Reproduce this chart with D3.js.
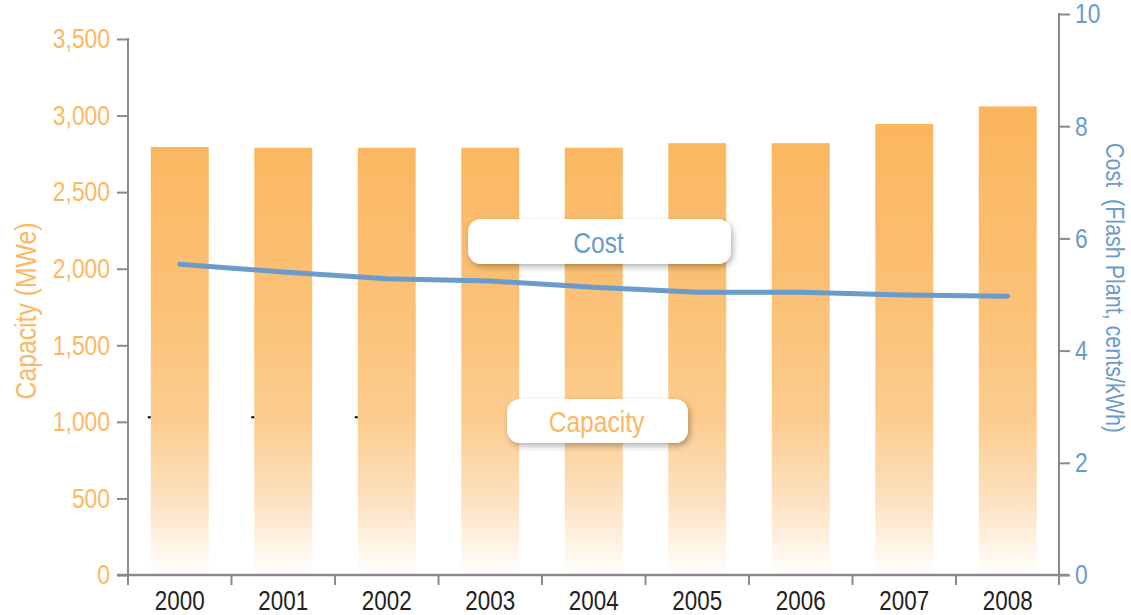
<!DOCTYPE html>
<html>
<head>
<meta charset="utf-8">
<script src="https://cdn.jsdelivr.net/npm/d3@7/dist/d3.min.js"></script>
<style>
  html, body { margin: 0; padding: 0; background: #ffffff; }
  svg { display: block; }
  text { font-family: "Liberation Sans Narrow", "Arial Narrow", "Liberation Sans", Arial, sans-serif; }
</style>
</head>
<body>
<svg id="chart" width="1131" height="615"></svg>
<script>
// ---- data ----
const years = ["2000", "2001", "2002", "2003", "2004", "2005", "2006", "2007", "2008"];
const capacity = [2795, 2790, 2790, 2790, 2790, 2820, 2820, 2945, 3060]; // MWe
const cost = [5.54, 5.40, 5.28, 5.24, 5.13, 5.04, 5.04, 4.99, 4.97];      // cents/kWh
const capacityTicks = [0, 500, 1000, 1500, 2000, 2500, 3000, 3500];
const costTicks = [0, 2, 4, 6, 8, 10];
const markerYears = ["2000", "2001", "2002"];

// ---- colors ----
const blue = "#6A9BCB";
const orangeText = "#FCB862";
const axisGray = "#8A8A8C";
const FF = "Liberation Sans Narrow, Arial Narrow, Liberation Sans, Arial, sans-serif";

const svg = d3.select("#chart");

// condense helper: squeeze glyphs horizontally (condensed look)
function condense(sel, factor, fixed) {
  sel.each(function () {
    const len = fixed || this.getComputedTextLength() * factor;
    d3.select(this).attr("textLength", len).attr("lengthAdjust", "spacingAndGlyphs");
  });
}

// ---- scales ----
const x = d3.scaleBand().domain(years).range([128, 1059.5]).padding(0);
const yL = d3.scaleLinear().domain([0, 3500]).range([575, 39]);
const yR = d3.scaleLinear().domain([0, 10]).range([575, 14]);
const barW = x.bandwidth() * 0.56;

// ---- defs ----
const defs = svg.append("defs");
const grad = defs.append("linearGradient")
  .attr("id", "barGrad")
  .attr("gradientUnits", "userSpaceOnUse")
  .attr("x1", 0).attr("x2", 0)
  .attr("y1", yL(3100)).attr("y2", yL(0));
[[0, "#FBB55B"], [0.42, "#FBC176"], [0.67, "#FCCC8E"], [0.84, "#FDE1BF"], [1, "#FFFFFF"]]
  .forEach(([o, c]) => grad.append("stop").attr("offset", o).attr("stop-color", c));

const shadow = defs.append("filter").attr("id", "shadow")
  .attr("x", "-20%").attr("y", "-40%").attr("width", "140%").attr("height", "180%");
shadow.append("feDropShadow").attr("dx", 2).attr("dy", 3).attr("stdDeviation", 3)
  .attr("flood-color", "#000").attr("flood-opacity", 0.3);

// ---- bars ----
svg.append("g").selectAll("rect").data(years).join("rect")
  .attr("x", (d) => x(d) + x.bandwidth() / 2 - barW / 2)
  .attr("width", barW)
  .attr("y", (d, i) => yL(capacity[i]))
  .attr("height", (d, i) => yL(0) - yL(capacity[i]) - 3)
  .attr("fill", "url(#barGrad)");

// small black marks
svg.append("g").selectAll("rect").data(markerYears).join("rect")
  .attr("x", (d) => x(d) + x.bandwidth() / 2 - barW / 2 - 3)
  .attr("y", yL(1030) - 1)
  .attr("width", 3).attr("height", 2)
  .attr("fill", "#000");

// ---- cost line ----
const line = d3.line()
  .x((d, i) => x(years[i]) + x.bandwidth() / 2)
  .y((d) => yR(d));
svg.append("path").datum(cost)
  .attr("d", line)
  .attr("fill", "none")
  .attr("stroke", blue)
  .attr("stroke-width", 5)
  .attr("stroke-linecap", "round")
  .attr("stroke-linejoin", "round");

// ---- left axis ----
const gL = svg.append("g").attr("transform", "translate(128,0)")
  .call(d3.axisLeft(yL).tickValues(capacityTicks).tickFormat(d3.format(","))
    .tickSize(11).tickSizeOuter(0).tickPadding(7));
gL.select(".domain").remove();
gL.selectAll(".tick line").attr("stroke", axisGray).attr("stroke-width", 2);
gL.selectAll(".tick text").attr("fill", orangeText).attr("font-size", 27.5).attr("font-family", FF);
condense(gL.selectAll(".tick text"), 0.83);
svg.append("line").attr("x1", 128).attr("x2", 128)
  .attr("y1", yL(3500) - 1).attr("y2", yL(0) + 10)
  .attr("stroke", axisGray).attr("stroke-width", 2);

// ---- right axis ----
const gR = svg.append("g").attr("transform", "translate(1059,0)")
  .call(d3.axisRight(yR).tickValues(costTicks).tickFormat(d3.format("d"))
    .tickSize(11).tickSizeOuter(0).tickPadding(5));
gR.select(".domain").remove();
gR.selectAll(".tick line").attr("stroke", axisGray).attr("stroke-width", 2);
gR.selectAll(".tick text").attr("fill", blue).attr("font-size", 27.5).attr("font-family", FF);
condense(gR.selectAll(".tick text"), 0.83);
svg.append("line").attr("x1", 1059).attr("x2", 1059)
  .attr("y1", yR(10) - 1).attr("y2", yR(0) + 10)
  .attr("stroke", axisGray).attr("stroke-width", 2);

// ---- bottom axis ----
svg.append("line").attr("x1", 117).attr("x2", 1069)
  .attr("y1", yL(0)).attr("y2", yL(0))
  .attr("stroke", axisGray).attr("stroke-width", 2.5);
svg.append("g").selectAll("line").data(years.slice(1)).join("line")
  .attr("x1", (d) => x(d)).attr("x2", (d) => x(d))
  .attr("y1", yL(0)).attr("y2", yL(0) + 10)
  .attr("stroke", axisGray).attr("stroke-width", 2);
const gB = svg.append("g").attr("transform", `translate(0,${yL(0)})`)
  .call(d3.axisBottom(x).tickSize(0).tickPadding(16));
gB.select(".domain").remove();
gB.selectAll(".tick text").attr("fill", "#231F20").attr("font-size", 27).attr("font-family", FF);
condense(gB.selectAll(".tick text"), 0.83);

// ---- axis titles ----
const tL = svg.append("text")
  .attr("transform", `translate(36,${(yL(0) + yL(3500)) / 2 + 4}) rotate(-90)`)
  .attr("text-anchor", "middle")
  .attr("fill", orangeText).attr("font-size", 29)
  .text("Capacity (MWe)");
condense(tL, 1, 177);
const tR = svg.append("text")
  .attr("transform", `translate(1106,288) rotate(90)`)
  .attr("text-anchor", "middle")
  .attr("fill", blue).attr("font-size", 26)
  .attr("xml:space", "preserve")
  .style("white-space", "pre")
  .text("Cost  (Flash Plant, cents/kWh)");
condense(tR, 1, 290);

// ---- legend boxes ----
const legends = [
  { label: "Cost", color: blue, x: 468, y: 219, w: 263, h: 45 },
  { label: "Capacity", color: orangeText, x: 507, y: 399, w: 181, h: 44 }
];
const lg = svg.append("g").selectAll("g").data(legends).join("g");
lg.append("rect")
  .attr("x", (d) => d.x).attr("y", (d) => d.y)
  .attr("width", (d) => d.w).attr("height", (d) => d.h)
  .attr("rx", 13).attr("fill", "#fff")
  .attr("filter", "url(#shadow)");
const lt = lg.append("text")
  .attr("x", (d) => d.x + d.w / 2 - 1)
  .attr("y", (d) => d.y + d.h / 2 + 11)
  .attr("text-anchor", "middle")
  .attr("fill", (d) => d.color)
  .attr("font-size", 30)
  .text((d) => d.label);
condense(lt, 0.82);
</script>
</body>
</html>
